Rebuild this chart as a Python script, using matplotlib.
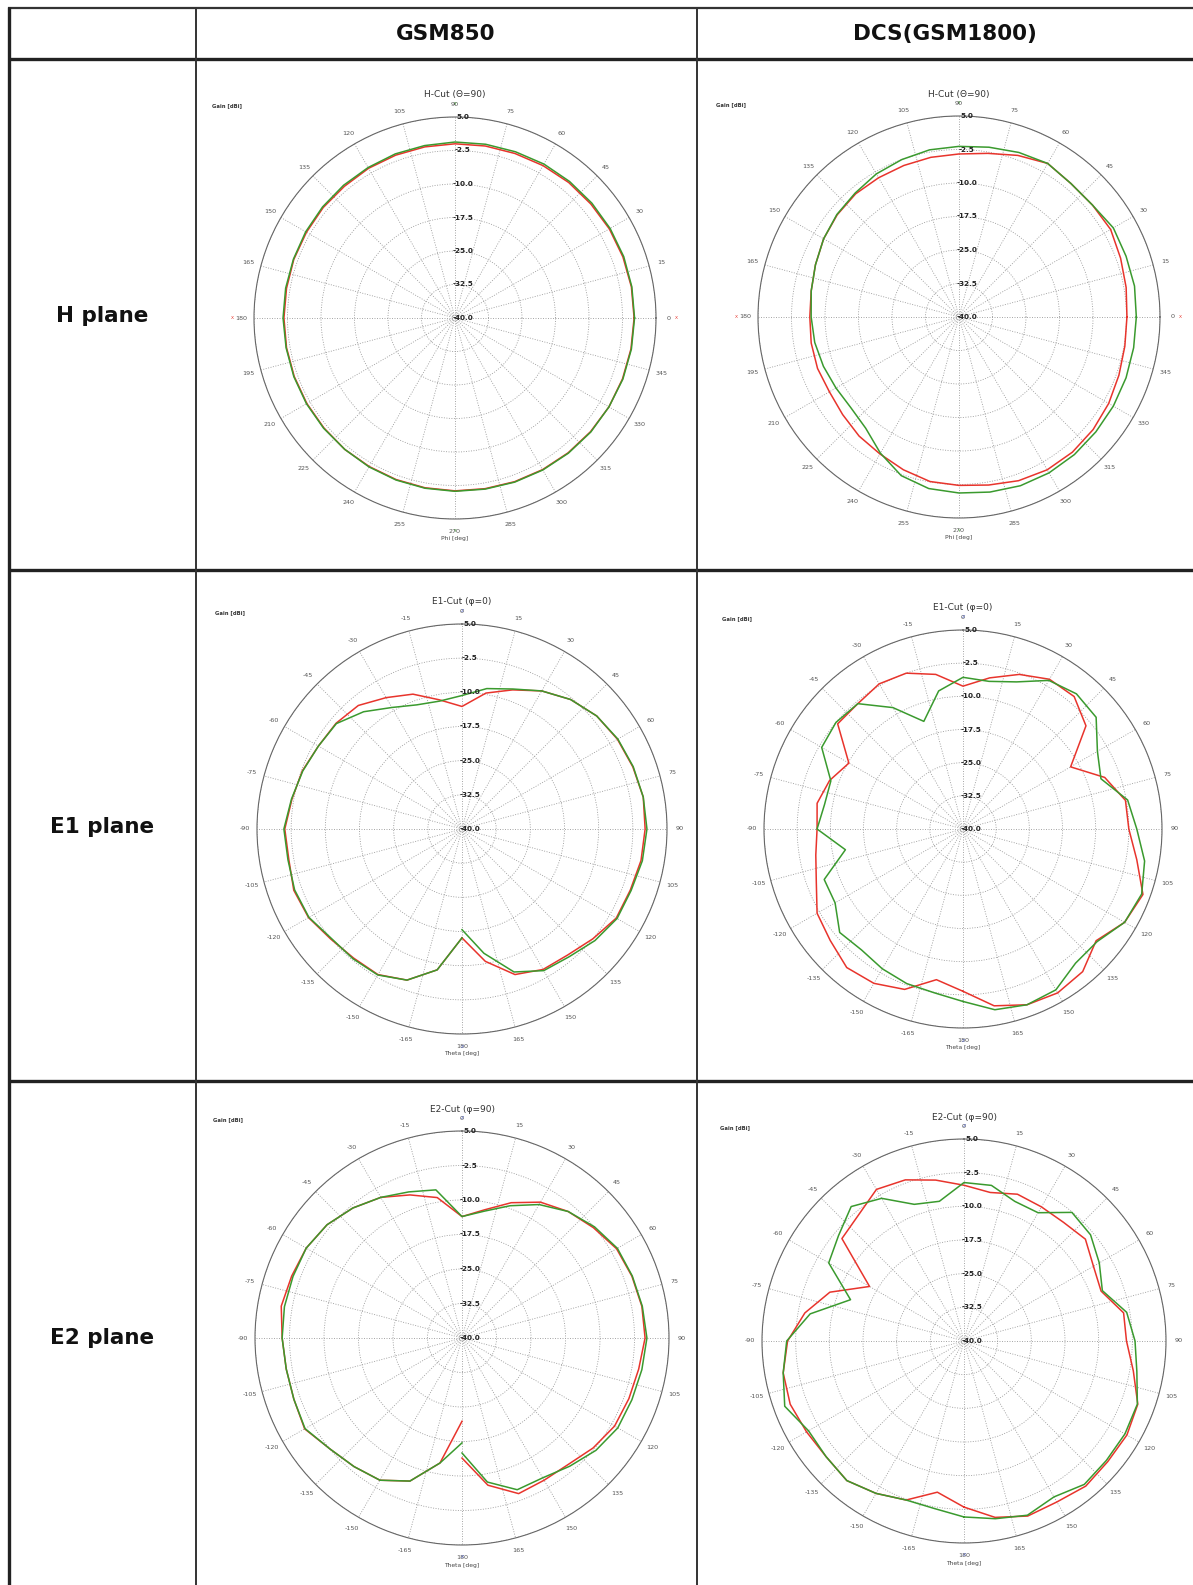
import numpy as np
import matplotlib
matplotlib.use("Agg")
import matplotlib.pyplot as plt
from matplotlib.transforms import offset_copy

# ---------------- data (gain in dBi) ----------------
columns = ["GSM850", "DCS(GSM1800)"]
rows = ["H plane", "E1 plane", "E2 plane"]

phi_deg = np.arange(0, 360, 10)        # H-cut, 0..350
theta_deg = np.arange(-180, 190, 10)   # E-cuts, -180..180

gsm_h_red = [0.1, 0.1, 0.0, -0.1, -0.3, -0.4, -0.6, -0.8, -0.9, -1.0, -1.1, -1.2,
             -1.3, -1.5, -1.5, -1.6, -1.6, -1.7, -1.7, -1.7, -1.7, -1.7, -1.7, -1.6,
             -1.6, -1.5, -1.4, -1.3, -1.2, -1.0, -0.8, -0.6, -0.4, -0.2, -0.1, 0.0]
gsm_h_green = [0.2, 0.2, 0.2, 0.1, 0.0, -0.1, -0.2, -0.4, -0.5, -0.6, -0.8, -0.9,
               -1.1, -1.2, -1.3, -1.4, -1.5, -1.5, -1.5, -1.6, -1.6, -1.6, -1.6, -1.6,
               -1.5, -1.4, -1.3, -1.2, -1.1, -0.9, -0.7, -0.5, -0.3, -0.2, 0.0, 0.1]

dcs_h_red = [-2.4, -2.0, -1.5, -0.8, -1.0, -1.0, -0.3, -1.5, -2.8, -3.5, -3.7, -3.9,
             -4.0, -4.0, -4.4, -5.0, -5.8, -6.4, -6.6, -6.4, -6.3, -6.5, -6.0, -5.2,
             -4.6, -3.6, -2.6, -2.3, -1.8, -1.0, -0.5, -0.5, -0.8, -1.3, -1.9, -2.3]
dcs_h_green = [-0.3, -0.1, -0.2, -0.1, -1.0, -1.0, -0.3, -0.8, -1.4, -1.8, -2.0, -2.5,
               -3.0, -3.8, -4.3, -5.0, -5.8, -6.4, -6.9, -7.2, -7.7, -8.2, -8.4, -7.5,
               -4.8, -2.2, -1.0, -0.6, -0.2, 0.2, 0.3, 0.2, 0.0, -0.1, -0.2, -0.3]

gsm_e1_red = [-16.1, -8.6, -4.7, -3.1, -3.0, -2.4, -1.1, -0.7, -1.4, -1.1, -2.1, -2.7,
              -3.6, -3.9, -4.6, -6.7, -8.5, -11.2, -13.1, -9.7, -7.5, -5.0, -2.9, -1.4,
              -0.6, -0.1, 0.4, 0.2, -0.1, -0.7, -0.9, -2.5, -3.9, -4.4, -6.0, -10.5, -16.1]
gsm_e1_green = [-16.1, -8.6, -4.7, -3.0, -2.8, -2.6, -1.2, -0.9, -1.2, -0.9, -2.0, -2.8,
                -3.6, -4.0, -6.4, -9.2, -11.0, -11.5, -10.7, -8.7, -7.3, -5.0, -2.9, -1.4,
                -0.5, 0.0, 0.4, 0.6, 0.2, -0.5, -0.7, -1.9, -3.4, -4.1, -6.6, -12.3, -17.9]

dcs_e1_red = [-3.3, -5.4, -1.4, 0.3, 0.9, -0.8, -1.9, -4.7, -6.2, -7.0, -6.5, -7.9,
              -10.2, -3.0, -3.0, -2.1, -2.5, -4.5, -7.7, -5.3, -2.8, -0.9, -0.9, -3.7,
              -11.9, -5.9, -2.7, -2.5, -0.1, 3.3, 2.2, -0.7, 2.1, 2.8, 2.3, 0.6, -3.3]
dcs_e1_green = [-1.0, -2.4, -2.8, -3.5, -4.3, -3.6, -6.6, -6.6, -13.0, -7.0, -8.2, -8.2,
                -3.1, -2.5, -3.0, -8.3, -14.1, -8.3, -5.7, -6.1, -4.6, -1.2, -0.1, -0.7,
                -4.9, -6.8, -2.2, -0.7, 1.7, 3.0, 2.2, -0.4, -0.4, 2.0, 2.3, 1.5, -1.0]

gsm_e2_red = [-21.9, -12.4, -6.9, -4.3, -3.5, -2.5, -0.5, -1.1, -1.2, -0.9, -0.1, -0.6,
              -0.9, -1.7, -3.1, -4.7, -6.9, -9.0, -13.6, -11.7, -8.7, -5.9, -4.1, -2.7,
              -1.2, -0.7, -0.3, -0.2, -1.0, -1.4, -1.7, -2.8, -4.1, -4.3, -4.0, -7.5, -13.9]
gsm_e2_green = [-17.2, -12.4, -6.9, -4.3, -3.5, -2.5, -0.6, -1.1, -1.2, -0.9, -0.8, -0.9,
                -0.9, -1.7, -3.1, -4.7, -6.2, -7.3, -13.6, -12.0, -9.4, -6.5, -4.1, -2.4,
                -1.0, -0.6, -0.2, 0.2, -0.3, -0.7, -0.9, -2.0, -3.6, -4.9, -4.9, -8.2, -15.0]

dcs_e2_red = [-3.0, -5.8, -2.3, -0.8, 0.6, 0.1, 0.5, 1.2, 0.9, -0.7, -4.0, -8.2,
              -15.7, -4.5, -3.4, -1.0, -1.8, -3.6, -5.3, -6.4, -5.2, -5.5, -5.5, -4.7,
              -6.7, -7.5, -3.9, -3.8, -1.7, 1.2, 1.9, 1.8, 2.2, 1.4, 1.5, -0.1, -3.0]
dcs_e2_green = [-0.8, -2.1, -2.3, -0.8, 0.6, 0.1, 0.0, 2.5, 0.9, -0.5, -5.2, -13.1,
                -5.2, -3.5, -0.9, -3.3, -7.6, -8.4, -4.7, -4.8, -6.9, -7.0, -2.6, -3.2,
                -5.2, -7.2, -3.2, -1.9, -0.9, 1.1, 1.4, 1.4, 1.7, 0.1, 1.3, 0.2, -0.8]

r_ticks = [-40.0, -32.5, -25.0, -17.5, -10.0, -2.5, 5.0]

RED = "#e8342c"
GREEN = "#3a9a2e"
BLUE = "#4a5cc0"

W, H = 1193, 1585
fig = plt.figure(figsize=(W / 100, H / 100), dpi=100)
fig.patch.set_facecolor("white")

# table frame
tab = fig.add_axes([0, 0, 1, 1])
tab.set_xlim(0, W)
tab.set_ylim(H, 0)
tab.axis("off")
x_cols = [8.5, 196, 697]
y_rows = [7.5, 59, 570, 1081]
tab.plot([8, W], [y_rows[0], y_rows[0]], color="#333", lw=1.6, solid_capstyle="butt")
for y in y_rows[1:]:
    tab.plot([8, W], [y, y], color="#222", lw=2.4, solid_capstyle="butt")
tab.plot([x_cols[0], x_cols[0]], [6.5, H], color="#222", lw=2.4, solid_capstyle="butt")
for x in x_cols[1:]:
    tab.plot([x, x], [6.5, H], color="#333", lw=1.4, solid_capstyle="butt")

head_font = dict(fontsize=15.5, fontweight="bold", color="#111", ha="center", va="center")
tab.text(446, 34, columns[0], **head_font)
tab.text(945, 34, columns[1], **head_font)
for yc, name in zip([316, 827, 1338], rows):
    tab.text(102, yc, name, **head_font)


def polar_cell(cx, cy, R, kind, title, series):
    ax = fig.add_axes([(cx - R) / W, 1 - (cy + R) / H, 2 * R / W, 2 * R / H],
                      projection="polar")
    ang = np.arange(0, 360, 15)
    if kind == "H":
        ax.set_theta_zero_location("E")
        ax.set_theta_direction(1)
        labels = [str(a) for a in ang]
        top = 90
        xlabel = "Phi [deg]"
    else:
        ax.set_theta_zero_location("N")
        ax.set_theta_direction(-1)
        labels = [str(a if a <= 180 else a - 360) for a in ang]
        top = 0
        xlabel = "Theta [deg]"
    ax.set_ylim(-40, 5)
    ax.set_thetagrids(ang, labels, fontsize=4.6, color="#555")
    ax.set_rgrids(r_ticks, labels=[""] * len(r_ticks))
    ax.tick_params(axis="x", pad=-1.5)
    ax.grid(True, color="#9a9a9a", linestyle=(0, (1.2, 1.8)), linewidth=0.6)
    ax.spines["polar"].set_color("#666")
    ax.spines["polar"].set_linewidth(0.8)

    for ang_list, vals, col in series:
        ax.plot(np.deg2rad(ang_list), vals, color=col, lw=1.1, zorder=3)

    tr = offset_copy(ax.transData, fig=fig, x=8, y=0, units="dots")
    for r in r_ticks:
        ax.text(np.deg2rad(top), r, f"{r:.1f}", transform=tr, fontsize=5.2,
                fontweight="bold", color="#222", ha="center", va="center", zorder=4)

    s = 1.0 / (2 * R)
    small = dict(transform=ax.transAxes, fontsize=3.2, ha="center", va="center")
    ax.text(0.5, 1 + 22 * s, title, transform=ax.transAxes, fontsize=6.5,
            color="#333", ha="center", va="center")
    ax.text(-42 * s, 1 + 11 * s, "Gain [dBi]", transform=ax.transAxes, fontsize=3.8,
            fontweight="bold", color="#333", ha="left", va="center")
    ax.text(0.5, -20 * s, xlabel, transform=ax.transAxes, fontsize=4.3,
            color="#444", ha="center", va="center")
    mark = "Y" if kind == "H" else "Z"
    mcol = GREEN if kind == "H" else BLUE
    ax.text(0.5, 1 + 13 * s, mark, color=mcol, **small)
    ax.text(0.5, -12.5 * s, mark, color=mcol, **small)
    if kind == "H":
        ax.text(1 + 20 * s, 0.5, "X", color=RED, **small)
        ax.text(-22 * s, 0.5, "X", color=RED, **small)
    return ax


phi_closed = np.append(phi_deg, 360)
polar_cell(455, 318, 201, "H", "H-Cut (\u0398=90)",
           [(phi_closed, gsm_h_red + gsm_h_red[:1], RED),
            (phi_closed, gsm_h_green + gsm_h_green[:1], GREEN)])
polar_cell(959, 317, 201, "H", "H-Cut (\u0398=90)",
           [(phi_closed, dcs_h_red + dcs_h_red[:1], RED),
            (phi_closed, dcs_h_green + dcs_h_green[:1], GREEN)])
polar_cell(462, 829, 205, "E", "E1-Cut (\u03c6=0)",
           [(theta_deg, gsm_e1_red, RED), (theta_deg, gsm_e1_green, GREEN)])
polar_cell(963, 829, 199, "E", "E1-Cut (\u03c6=0)",
           [(theta_deg, dcs_e1_red, RED), (theta_deg, dcs_e1_green, GREEN)])
polar_cell(462, 1338, 207, "E", "E2-Cut (\u03c6=90)",
           [(theta_deg, gsm_e2_red, RED), (theta_deg, gsm_e2_green, GREEN)])
polar_cell(964, 1341, 202, "E", "E2-Cut (\u03c6=90)",
           [(theta_deg, dcs_e2_red, RED), (theta_deg, dcs_e2_green, GREEN)])

fig.savefig("out.png", dpi=100, facecolor="white")
